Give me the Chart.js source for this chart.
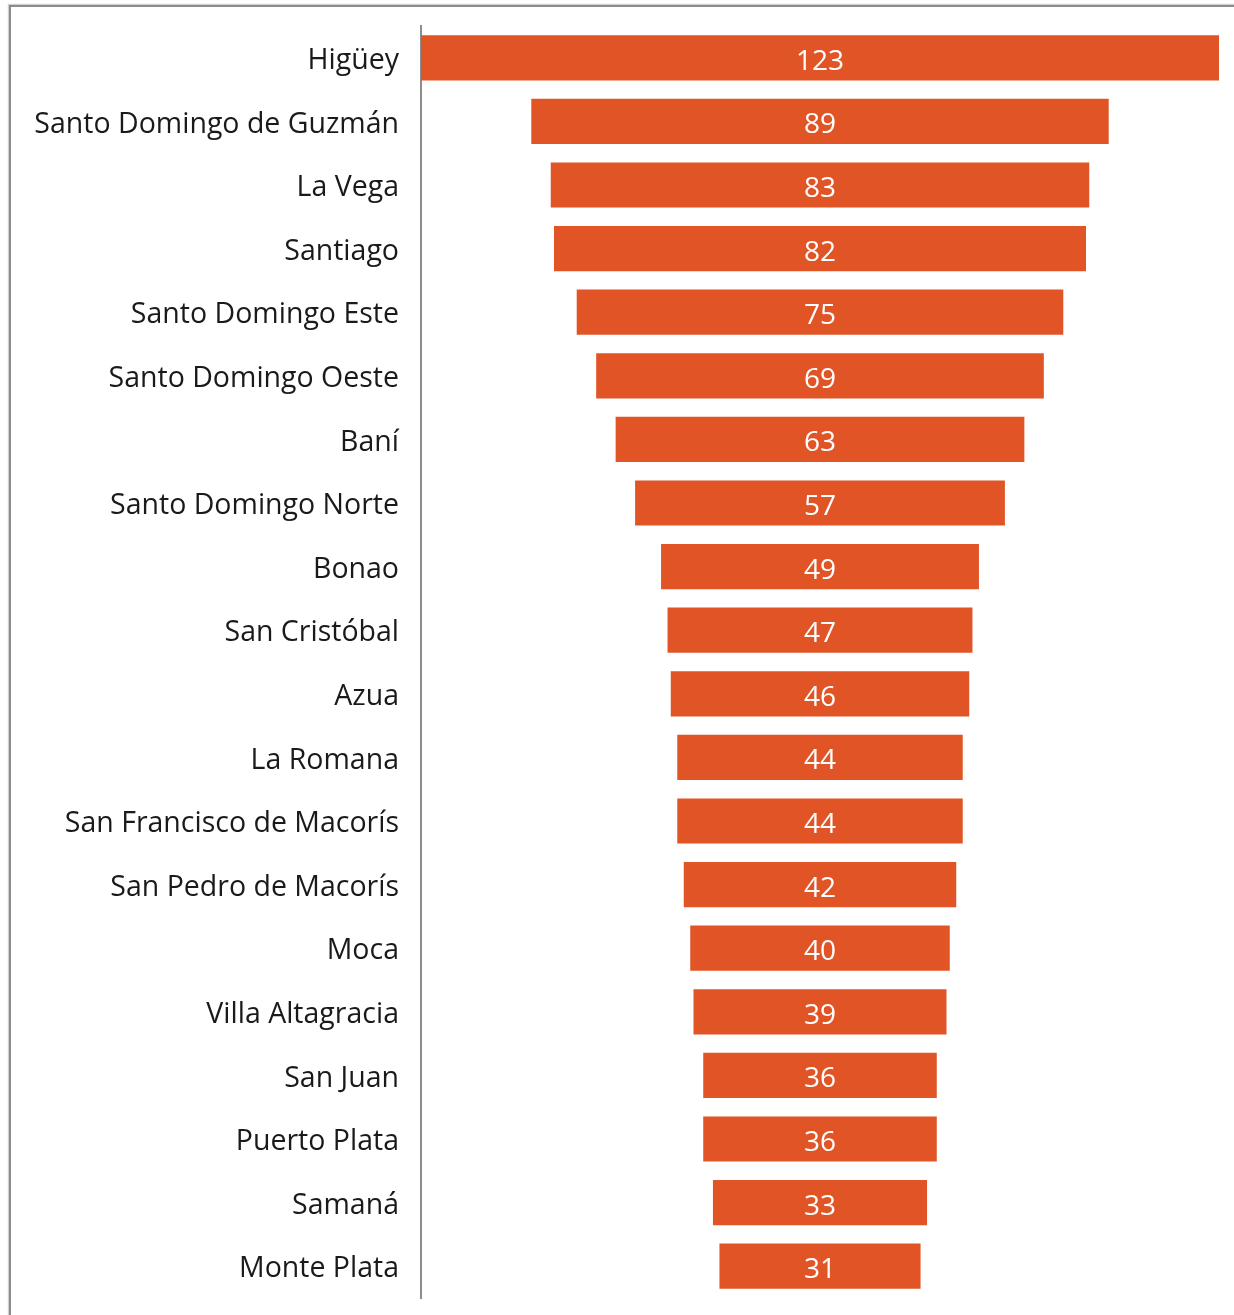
<!DOCTYPE html>
<html>
<head>
<meta charset="utf-8">
<script src="https://cdn.jsdelivr.net/npm/chart.js@4"></script>
<style>
  html, body { margin: 0; padding: 0; background: #fff; }
  #wrap { position: relative; width: 1234px; height: 1315px; }
  #frame {
    position: absolute; left: 9px; top: 5px; right: -4px; bottom: -4px;
    border-top: 2px solid #8c8c8c; border-left: 2px solid #8c8c8c;
    box-shadow: -1px -1px 1px #d0d0d0;
  }
  canvas { position: absolute; left: 0; top: 0; }
</style>
</head>
<body>
<div id="wrap">
  <div id="frame"></div>
  <canvas id="funnel" width="1234" height="1315"></canvas>
</div>
<script>
// municipios y valores
const municipios = [
  "Higüey", "Santo Domingo de Guzmán", "La Vega", "Santiago",
  "Santo Domingo Este", "Santo Domingo Oeste", "Baní", "Santo Domingo Norte",
  "Bonao", "San Cristóbal", "Azua", "La Romana",
  "San Francisco de Macorís", "San Pedro de Macorís", "Moca", "Villa Altagracia",
  "San Juan", "Puerto Plata", "Samaná", "Monte Plata"
];
const valores = [123, 89, 83, 82, 75, 69, 63, 57, 49, 47, 46, 44, 44, 42, 40, 39, 36, 36, 33, 31];

const maxVal = Math.max(...valores);
const FONT = "'Open Sans', sans-serif";

// floating bars centered on zero -> funnel shape
const barras = valores.map(v => [-v / 2, v / 2]);

// draw value text in the middle of each bar
const valueLabels = {
  id: "valueLabels",
  afterDatasetsDraw(chart) {
    const ctx = chart.ctx;
    const meta = chart.getDatasetMeta(0);
    ctx.save();
    ctx.fillStyle = "#ffffff";
    ctx.font = "28px " + FONT;
    ctx.textAlign = "center";
    ctx.textBaseline = "middle";
    meta.data.forEach((bar, i) => {
      const cx = (bar.x + bar.base) / 2;
      ctx.fillText(valores[i], cx, bar.y + 4);
    });
    ctx.restore();
  }
};

new Chart(document.getElementById("funnel"), {
  type: "bar",
  data: {
    labels: municipios,
    datasets: [{
      data: barras,
      backgroundColor: "#E05426",
      borderWidth: 0,
      borderSkipped: false,
      barPercentage: 0.71,
      categoryPercentage: 1
    }]
  },
  options: {
    indexAxis: "y",
    responsive: false,
    animation: false,
    layout: { padding: { left: 10, right: 15, top: 26, bottom: 17 } },
    plugins: {
      legend: { display: false },
      tooltip: { enabled: false }
    },
    scales: {
      x: {
        display: false,
        min: -maxVal / 2,
        max: maxVal / 2
      },
      y: {
        grid: { display: false, drawTicks: false },
        border: { display: true, color: "#8c8c8c", width: 2 },
        ticks: {
          color: "#1a1a1a",
          padding: 22,
          labelOffset: 3,
          font: { family: FONT, size: 28.5 }
        },
        afterFit(scale) {
          scale.width = 411;
          scale.paddingTop = 0;
          scale.paddingBottom = 0;
        }
      }
    }
  },
  plugins: [valueLabels]
});
</script>
</body>
</html>
